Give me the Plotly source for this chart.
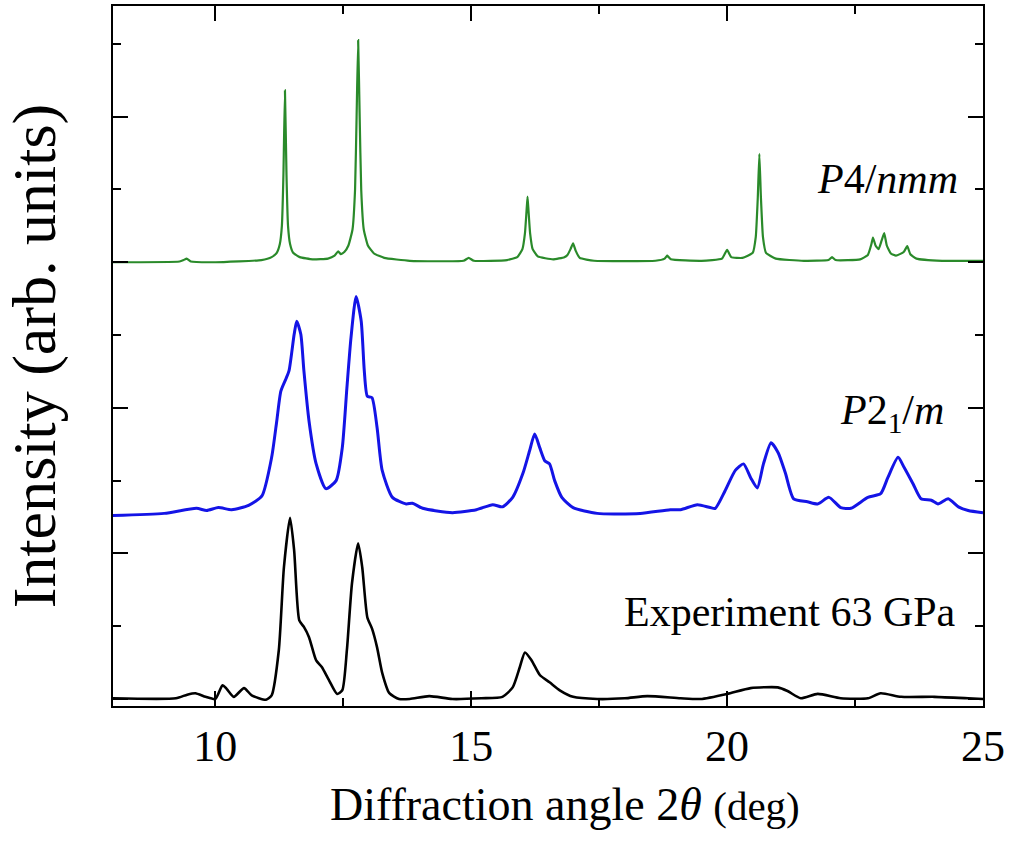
import plotly.graph_objects as go

# ---- data (2theta in deg, intensity in arb. units incl. vertical offsets) ----
exp_x = [8.0, 9.23, 9.45, 9.61, 9.81, 10.0, 10.14, 10.22, 10.36, 10.56, 10.71, 10.99,
         11.1, 11.24, 11.34, 11.46, 11.54, 11.64, 11.73, 11.83, 11.97, 12.08, 12.22,
         12.38, 12.48, 12.57, 12.67, 12.79, 12.87, 12.97, 13.06, 13.16, 13.26, 13.4,
         13.59, 13.8, 14.18, 14.63, 15.2, 15.61, 15.81, 15.95, 16.05, 16.18, 16.34,
         16.53, 16.73, 16.99, 17.46, 18.0, 18.44, 19.09, 19.48, 20.0, 20.46, 20.99,
         21.18, 21.44, 21.77, 22.22, 22.75, 23.0, 23.4, 24.05, 24.71, 25.0]
exp_y = [0.1, 0.1, 0.6, 0.8, 0.3, 0.0, 1.9, 1.4, 0.3, 1.5, 0.5, -0.1,
         0.5, 6.7, 18.1, 24.9, 20.4, 10.8, 9.9, 8.5, 5.3, 4.4, 2.6,
         0.7, 1.2, 6.7, 15.9, 21.4, 18.1, 11.2, 9.7, 7.1, 3.6, 0.8,
         0.0, 0.0, 0.4, 0.0, 0.1, 0.3, 1.6, 4.4, 6.4, 5.3, 3.3,
         2.3, 1.2, 0.3, 0.0, 0.1, 0.4, 0.1, 0.0, 0.7, 1.5, 1.6,
         1.1, 0.1, 0.7, 0.1, 0.1, 0.8, 0.3, 0.3, 0.1, 0.0]

p21m_x = [8.0, 9.0, 9.63, 9.83, 10.06, 10.32, 10.65, 10.91, 11.1, 11.2, 11.28, 11.38,
          11.44, 11.54, 11.59, 11.67, 11.73, 11.83, 11.97, 12.16, 12.36, 12.48, 12.57,
          12.65, 12.75, 12.85, 12.91, 12.97, 13.06, 13.16, 13.26, 13.46, 13.73, 13.85,
          14.05, 14.63, 15.1, 15.42, 15.61, 15.81, 16.01, 16.14, 16.24, 16.34, 16.44,
          16.53, 16.63, 16.77, 16.99, 17.46, 18.3, 18.89, 19.09, 19.42, 19.67, 19.77,
          19.96, 20.16, 20.32, 20.46, 20.59, 20.71, 20.86, 21.0, 21.14, 21.3, 21.57,
          21.77, 21.99, 22.22, 22.42, 22.75, 23.0, 23.14, 23.34, 23.46, 23.63, 23.79,
          23.99, 24.12, 24.32, 24.52, 24.71, 25.0]
p21m_y = [25.2, 25.5, 26.2, 25.9, 26.3, 26.0, 26.6, 27.9, 33.2, 38.2, 42.3, 44.0,
          45.1, 50.1, 51.9, 50.1, 45.1, 38.2, 32.3, 28.9, 30.0, 34.5, 42.7,
          49.6, 55.3, 51.9, 45.1, 41.6, 41.4, 37.3, 31.4, 27.7, 26.8, 26.9,
          26.2, 25.6, 26.0, 26.7, 26.4, 27.7, 31.0, 34.1, 36.4, 34.5, 32.7,
          32.3, 30.0, 27.7, 26.3, 25.5, 25.5, 26.0, 26.0, 26.7, 26.3, 26.2,
          28.6, 31.4, 32.3, 30.4, 29.0, 32.3, 35.2, 33.8, 31.0, 27.5, 27.1,
          26.8, 27.7, 26.3, 26.2, 27.7, 28.2, 30.4, 33.2, 31.8, 29.6, 27.5,
          27.3, 26.8, 27.5, 26.4, 25.9, 25.6]

p4nmm_x = [8.0, 9.3, 9.38, 9.44, 9.52, 10.0, 10.9, 11.1, 11.2, 11.26, 11.3, 11.33,
           11.36, 11.39, 11.42, 11.46, 11.52, 11.65, 11.9, 12.2, 12.33, 12.4, 12.45,
           12.52, 12.6, 12.68, 12.73, 12.76, 12.79, 12.82, 12.85, 12.9, 12.98, 13.1,
           13.3, 13.8, 14.85, 14.95, 15.05, 15.7, 15.9, 16.0, 16.05, 16.08, 16.1,
           16.12, 16.15, 16.2, 16.3, 16.6, 16.82, 16.88, 16.94, 16.99, 17.04, 17.12,
           17.4, 18.6, 18.78, 18.83, 18.9, 19.5, 19.9, 20.0, 20.08, 20.3, 20.5,
           20.56, 20.6, 20.63, 20.66, 20.7, 20.76, 20.95, 21.5, 21.98, 22.05, 22.12,
           22.6, 22.75, 22.82, 22.85, 22.9, 22.96, 23.02, 23.07, 23.12, 23.2, 23.3,
           23.45, 23.52, 23.58, 23.7, 24.2, 25.0]
p4nmm_y = [60.0, 60.1, 60.3, 60.5, 60.1, 60.0, 60.3, 60.7, 61.3, 62.5, 65.0, 72.0,
           83.6, 72.0, 65.0, 62.5, 61.3, 60.7, 60.4, 60.5, 60.9, 61.5, 61.1,
           61.4, 62.3, 64.5, 70.0, 80.0, 90.5, 80.0, 70.0, 64.5, 62.3, 61.2,
           60.6, 60.2, 60.2, 60.6, 60.2, 60.3, 60.7, 61.8, 64.0, 67.0, 69.0,
           67.0, 64.0, 61.8, 60.8, 60.4, 60.7, 61.0, 61.8, 62.6, 61.6, 60.6,
           60.2, 60.2, 60.5, 60.9, 60.4, 60.2, 60.5, 61.7, 60.7, 60.6, 61.3,
           63.5, 69.0, 74.9, 69.0, 63.5, 61.3, 60.5, 60.2, 60.3, 60.7, 60.3,
           60.4, 61.0, 62.5, 63.4, 62.3, 61.8, 63.0, 64.0, 62.3, 61.2, 60.9,
           61.4, 62.2, 61.1, 60.5, 60.2, 60.2]

x_ticks = [10, 15, 20, 25]

SERIF = "Liberation Serif, Times New Roman, serif"

fig = go.Figure()
fig.add_trace(go.Scatter(x=exp_x, y=exp_y, mode="lines",
                         line=dict(color="#000000", width=2.6, shape="spline", smoothing=0.6)))
fig.add_trace(go.Scatter(x=p21m_x, y=p21m_y, mode="lines",
                         line=dict(color="#1414e6", width=3, shape="spline", smoothing=0.6)))
fig.add_trace(go.Scatter(x=p4nmm_x, y=p4nmm_y, mode="lines",
                         line=dict(color="#2a8a2a", width=2.2, shape="spline", smoothing=0.4)))

fig.add_annotation(x=24.55, y=71.5, xref="x", yref="y", xanchor="right", yanchor="middle",
                   text="<i>P</i>4/<i>nmm</i>", showarrow=False,
                   font=dict(family=SERIF, size=42, color="black"))
fig.add_annotation(x=24.28, y=39.3, xref="x", yref="y", xanchor="right", yanchor="middle",
                   text="<i>P</i>2<sub>1</sub>/<i>m</i>", showarrow=False,
                   font=dict(family=SERIF, size=42, color="black"))
fig.add_annotation(x=24.52, y=12.0, xref="x", yref="y", xanchor="right", yanchor="middle",
                   text="Experiment 63 GPa", showarrow=False,
                   font=dict(family=SERIF, size=42, color="black"))
# x-axis title (placed as annotation to match its slight right offset)
fig.add_annotation(x=0.52, y=-0.141, xref="paper", yref="paper", xanchor="center", yanchor="middle",
                   text="Diffraction angle 2<i>θ</i> <span style='font-size:41px'>(deg)</span>",
                   showarrow=False, font=dict(family=SERIF, size=46, color="black"))

fig.update_layout(
    width=1012, height=843,
    margin=dict(l=113, r=29, t=4, b=137),
    paper_bgcolor="white", plot_bgcolor="white",
    showlegend=False,
    font=dict(family=SERIF, color="black"),
)
fig.update_xaxes(
    range=[8, 25], showgrid=False, zeroline=False,
    showline=True, linecolor="black", linewidth=2, mirror="ticks",
    ticks="inside", ticklen=15, tickwidth=2, tickcolor="black",
    tickvals=x_ticks, tickfont=dict(family=SERIF, size=44, color="black"),
    minor=dict(ticks="inside", ticklen=8, tickwidth=2, tickcolor="black", dtick=2.5, tick0=0),
)
fig.update_yaxes(
    range=[-0.96, 95.2], showgrid=False, zeroline=False,
    showline=True, linecolor="black", linewidth=2, mirror="ticks",
    ticks="inside", ticklen=15, tickwidth=2, tickcolor="black",
    dtick=20, tick0=0, showticklabels=False,
    minor=dict(ticks="inside", ticklen=8, tickwidth=2, tickcolor="black", dtick=10, tick0=0),
    title=dict(text="Intensity (arb. units)", font=dict(family=SERIF, size=62, color="black"),
               standoff=42),
)

fig.write_html("out.html")
